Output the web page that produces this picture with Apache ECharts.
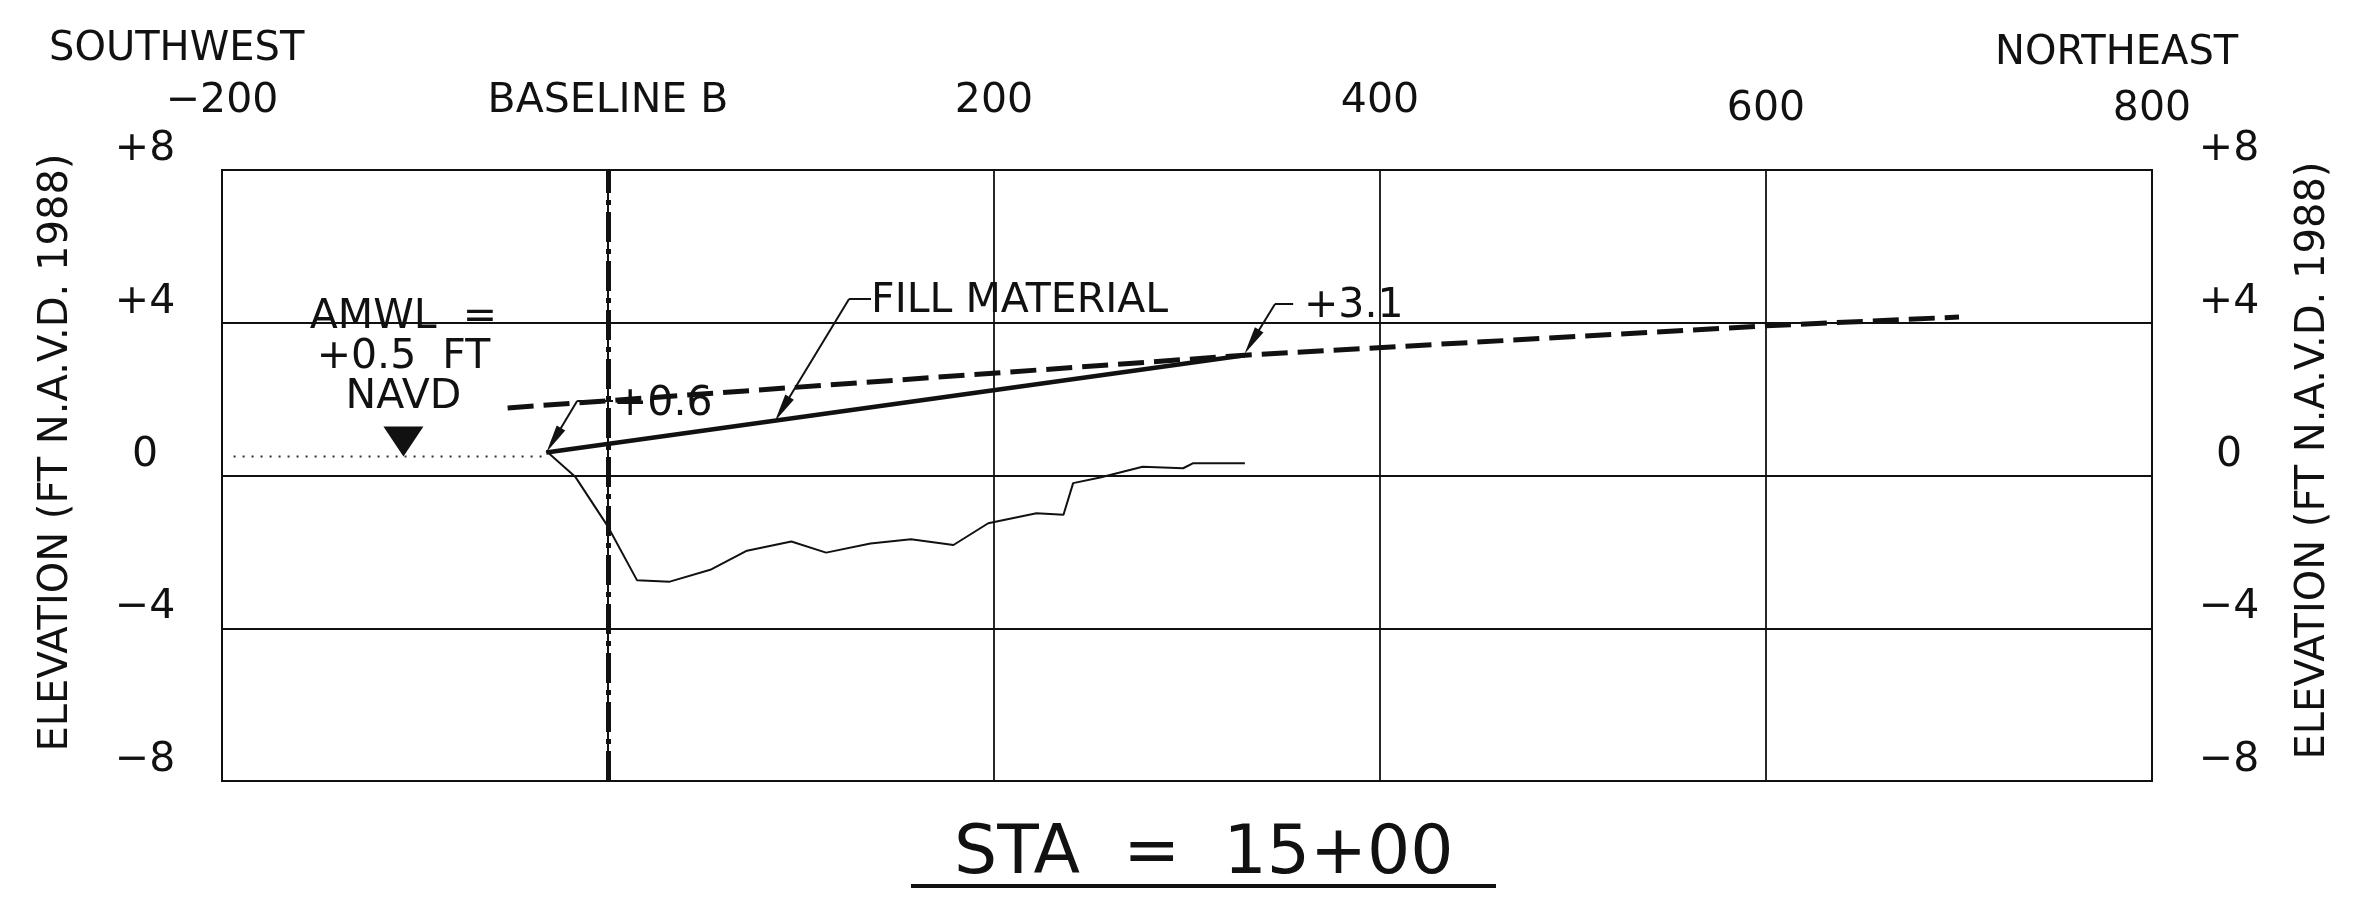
<!DOCTYPE html>
<html>
<head>
<meta charset="utf-8">
<title>STA = 15+00</title>
<script src="https://cdn.jsdelivr.net/npm/echarts@6/dist/echarts.min.js"></script>
<style>
  html, body { margin: 0; padding: 0; background: #fff; }
  #chart { width: 2356px; height: 902px; }
</style>
</head>
<body>
<div id="chart"></div>
<script>
// axis ticks
var xTicks = [-200, 0, 200, 400, 600, 800];
var xTickLabels = ['−200', 'BASELINE B', '200', '400', '600', '800'];
var yTicks = [-8, -4, 0, 4, 8];
var yTickLabels = ['−8', '−4', '0', '+4', '+8'];

// existing bottom profile (thin line)
var groundX = [-32, -17, 0, 15, 32, 53, 72, 95, 113, 136, 157, 179, 197, 222, 236, 241, 255, 277, 298, 303, 330];
var groundY = [0.64, -0.03, -1.34, -2.74, -2.78, -2.47, -1.97, -1.73, -2.02, -1.78, -1.67, -1.82, -1.25, -0.99, -1.03, -0.2, -0.05, 0.23, 0.19, 0.32, 0.32];

// top of fill material (solid)
var fillX = [-32, 330];
var fillY = [0.6, 3.15];

// design grade (dashed)
var gradeX = [-52, 330, 600, 700];
var gradeY = [1.77, 3.15, 3.92, 4.15];

// water level AMWL (dotted) and its marker
var waterX = [-194, -34];
var waterY = [0.5, 0.5];
var amwlX = -106;
var amwlY = 0.5;
var amwlText = 'AMWL  =\n+0.5  FT\nNAVD';

// callouts: text anchor and leader (tail, elbow, arrow end)
var noteText = ['+0.6', 'FILL MATERIAL', '+3.1'];
var noteX = [2.6, 136.3, 360.6];
var noteY = [1.87, 4.56, 4.44];
var leaders = [
  [[2.6, 1.95], [-16, 1.95], [-28.1, 0.93]],
  [[136.3, 4.62], [124.9, 4.62], [90.3, 1.74]],
  [[355, 4.49], [345.6, 4.49], [333.6, 3.5]]
];

var FONT = 'DejaVu Sans';
var INK = '#111';
var ARROW = 'path://M5,0 L10,28 L0,28 Z';
var DOWN_TRI = 'path://M0,0 L40,0 L20,30 Z';

function zip(xs, ys) {
  return xs.map(function (x, i) { return [x, ys[i]]; });
}

function yLabel(v) {
  return yTickLabels[yTicks.indexOf(v)];
}

var labelText = { fontFamily: FONT, fontSize: 41, color: INK };

var leaderData = [];
leaders.forEach(function (l) {
  leaderData.push([{ coord: l[0], symbol: 'none' }, { coord: l[1], symbol: 'none' }]);
  leaderData.push([{ coord: l[1], symbol: 'none' }, { coord: l[2], symbol: ARROW, symbolSize: 28 }]);
});

var option = {
  animation: false,
  backgroundColor: '#fff',
  title: [
    { text: 'SOUTHWEST', left: 49, top: 30, padding: 0,
      textStyle: { fontFamily: FONT, fontSize: 40, fontWeight: 'normal', color: INK } },
    { text: 'NORTHEAST', left: 1995, top: 34, padding: 0,
      textStyle: { fontFamily: FONT, fontSize: 40, fontWeight: 'normal', color: INK } },
    { text: 'STA  =  15+00', left: 954, top: 821, padding: 0,
      textStyle: { fontFamily: FONT, fontSize: 68, fontWeight: 'normal', color: INK } }
  ],
  graphic: [
    { type: 'line', shape: { x1: 911, y1: 886, x2: 1496, y2: 886 },
      style: { stroke: INK, lineWidth: 4 } }
  ],
  grid: {
    left: 222, right: 204, top: 170, bottom: 121,
    show: true, borderColor: INK, borderWidth: 2
  },
  xAxis: {
    type: 'value',
    position: 'top',
    min: -200, max: 800, interval: 200,
    axisLine: { show: true, lineStyle: { color: INK, width: 2 } },
    axisTick: { show: false },
    axisLabel: {
      margin: 40,
      formatter: function (v) {
        var t = xTickLabels[xTicks.indexOf(v)];
        return v >= 600 ? '{lo|' + t + '}' : '{hi|' + t + '}';
      },
      rich: {
        hi: { fontFamily: FONT, fontSize: 41, color: INK, padding: [0, 0, 8, 0] },
        lo: { fontFamily: FONT, fontSize: 41, color: INK }
      }
    },
    splitLine: { show: true, lineStyle: { color: INK, width: 1.8 } }
  },
  yAxis: [
    {
      type: 'value', position: 'left',
      min: -8, max: 8, interval: 4,
      name: 'ELEVATION (FT N.A.V.D. 1988)',
      nameLocation: 'middle', nameRotate: 90, nameGap: 145,
      nameTextStyle: { fontFamily: FONT, fontSize: 40, color: INK, padding: [0, 0, 0, 46] },
      axisLine: { show: true, lineStyle: { color: INK, width: 2 } },
      axisTick: { show: false },
      axisLabel: Object.assign({ margin: 77, align: 'center', verticalAlign: 'bottom', formatter: yLabel }, labelText),
      splitLine: { show: true, lineStyle: { color: INK, width: 1.8 } }
    },
    {
      type: 'value', position: 'right',
      min: -8, max: 8, interval: 4,
      name: 'ELEVATION (FT N.A.V.D. 1988)',
      nameLocation: 'middle', nameRotate: 90, nameGap: 142,
      nameTextStyle: { fontFamily: FONT, fontSize: 40, color: INK, padding: [0, 0, 0, 30] },
      axisLine: { show: true, lineStyle: { color: INK, width: 2 } },
      axisTick: { show: false },
      axisLabel: Object.assign({ margin: 77, align: 'center', verticalAlign: 'bottom', formatter: yLabel }, labelText),
      splitLine: { show: false }
    }
  ],
  series: [
    {
      name: 'AMWL',
      type: 'line',
      data: zip(waterX, waterY),
      symbol: 'none',
      lineStyle: { color: '#333', width: 2, type: [2, 7] }
    },
    {
      name: 'AMWL marker',
      type: 'scatter',
      data: [[amwlX, amwlY]],
      symbol: DOWN_TRI,
      symbolSize: [40, 30],
      symbolOffset: [0, -15],
      itemStyle: { color: INK, opacity: 1 },
      label: Object.assign({
        show: true, position: 'top', distance: 9,
        lineHeight: 40, align: 'center', opacity: 1,
        formatter: amwlText
      }, labelText),
      z: 5
    },
    {
      name: 'Existing bottom',
      type: 'line',
      data: zip(groundX, groundY),
      symbol: 'none',
      lineStyle: { color: INK, width: 2 },
      markLine: {
        silent: true,
        symbol: ['none', 'none'],
        label: { show: false },
        lineStyle: { color: INK, width: 5, type: [30, 7, 5, 7] },
        data: [{ xAxis: 0 }]
      }
    },
    {
      name: 'Design grade',
      type: 'line',
      data: zip(gradeX, gradeY),
      symbol: 'none',
      lineStyle: { color: INK, width: 5, type: [26, 10] }
    },
    {
      name: 'Fill material',
      type: 'line',
      data: zip(fillX, fillY),
      symbol: 'none',
      lineStyle: { color: INK, width: 4.5 },
      markLine: {
        silent: true,
        symbol: ['none', 'none'],
        symbolKeepAspect: true,
        label: { show: false },
        lineStyle: { color: INK, width: 2, type: 'solid' },
        data: leaderData
      },
      markPoint: {
        silent: true,
        symbol: 'circle',
        symbolSize: 0,
        label: Object.assign({ show: true, position: 'right', distance: 0, formatter: '{b}' }, labelText),
        data: noteText.map(function (t, i) {
          return { name: t, coord: [noteX[i], noteY[i]] };
        })
      }
    }
  ]
};

var myChart = echarts.init(document.getElementById('chart'));
myChart.setOption(option);
window.addEventListener('resize', function () {
  myChart.resize();
});
</script>
</body>
</html>
